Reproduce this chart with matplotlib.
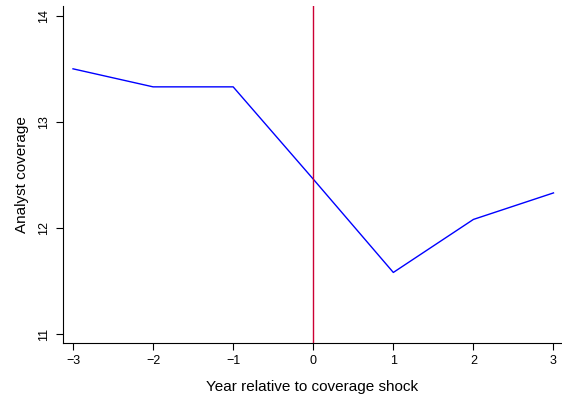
import matplotlib
matplotlib.use('Agg')
from matplotlib import pyplot as plt

plt.rcParams['font.family'] = ['Liberation Sans', 'DejaVu Sans']

years = [-3, -2, -1, 0, 1, 2, 3]
coverage = [13.50, 13.33, 13.33, 12.46, 11.58, 12.08, 12.33]
yticks = [11, 12, 13, 14]

fig = plt.figure(figsize=(5.62, 3.99), dpi=100)
ax = fig.add_axes([0.1121, 0.1404, 0.887, 0.845])

ax.plot(years, coverage, color='#0000ff', lw=1)
ax.axvline(0, color='#cc0033', lw=1)

ax.set_xlim(-3.125, 3.1)
ax.set_ylim(10.915, 14.094)
ax.set_xticks(years)
ax.set_xticklabels(['\u22123', '\u22122', '\u22121', '0', '1', '2', '3'])
ax.set_yticks(yticks)
ax.set_yticklabels([str(v) for v in yticks], rotation=90, va='center')
ax.tick_params(labelsize=9, length=5, width=0.8)
ax.tick_params(axis='y', pad=4)
ax.tick_params(axis='x', pad=4)

ax.spines['top'].set_visible(False)
ax.spines['right'].set_visible(False)
ax.spines['left'].set_linewidth(0.8)
ax.spines['bottom'].set_linewidth(0.8)

ax.set_xlabel('Year relative to coverage shock', fontsize=11, labelpad=9)
ax.set_ylabel('Analyst coverage', fontsize=11, labelpad=7)

fig.savefig('out.png', dpi=100)
